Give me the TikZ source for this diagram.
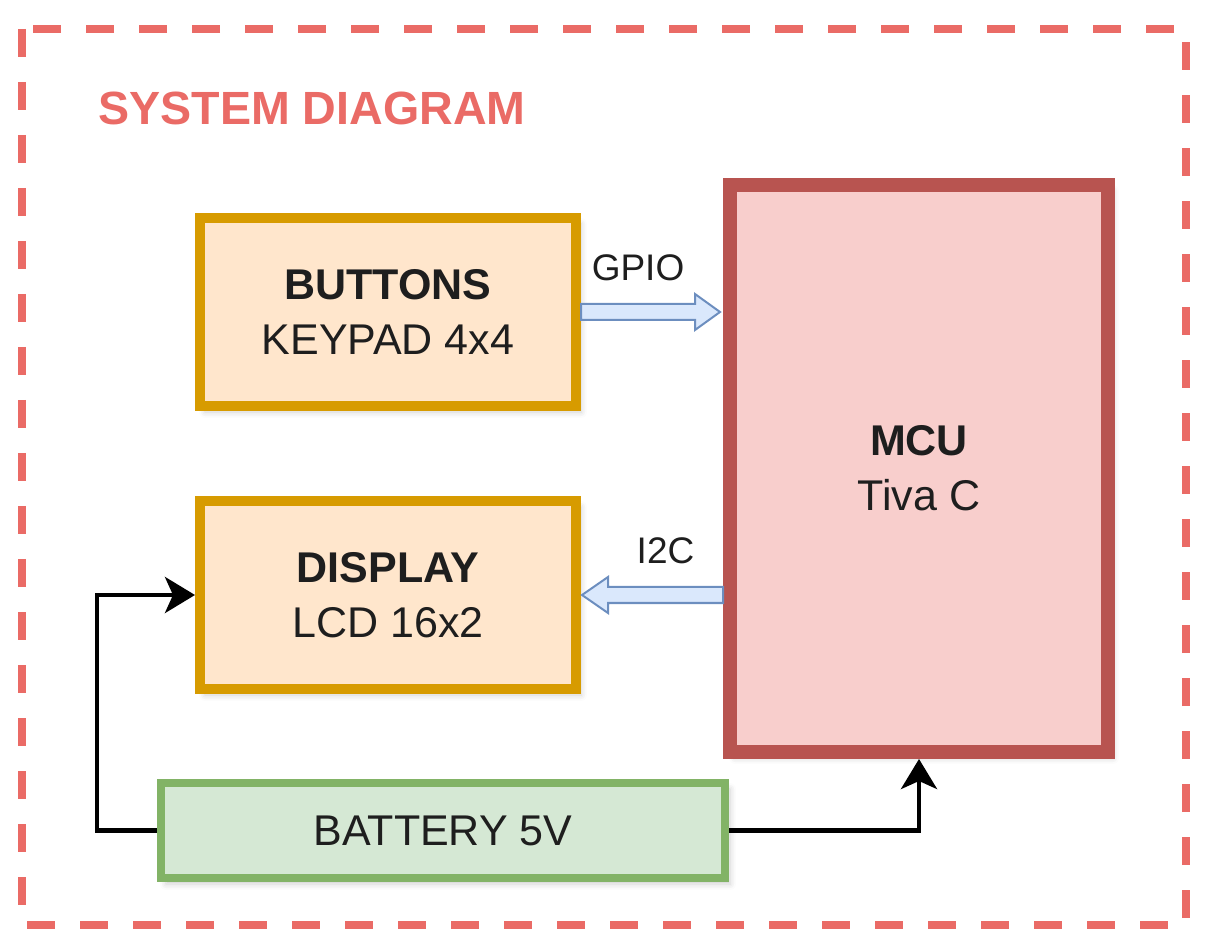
\documentclass[tikz,border=0pt]{standalone}
\usepackage{fontspec}
\setmainfont{Liberation Sans}
\usepackage{tikz}
\usetikzlibrary{arrows.meta, positioning, calc, shadows.blur}
\definecolor{framered}{HTML}{EA6B66}
\definecolor{ioorange}{HTML}{D79B00}
\definecolor{iofill}{HTML}{FFE6CC}
\definecolor{corered}{HTML}{B85450}
\definecolor{corefill}{HTML}{F8CECC}
\definecolor{batgreen}{HTML}{82B366}
\definecolor{batfill}{HTML}{D5E8D4}
\definecolor{busblue}{HTML}{6C8EBF}
\definecolor{busfill}{HTML}{DAE8FC}
\definecolor{textgray}{RGB}{30, 30, 30}

\begin{document}
\begin{tikzpicture}[
    x=0.5pt, y=-0.5pt,
    block/.style={draw, rectangle, align=center, text=textgray, inner sep=0pt, font=\fontsize{21.5}{27.5}\selectfont, blur shadow={shadow xshift=2.5pt, shadow yshift=-3pt, shadow blur radius=3pt, shadow opacity=20}},
    periph/.style={block, draw=ioorange, fill=iofill, line width=5pt, minimum width=188pt, minimum height=94pt},
    core/.style={block, draw=corered, fill=corefill, line width=7pt, minimum width=189pt, minimum height=283.5pt},
    supply/.style={block, draw=batgreen, fill=batfill, line width=4pt, minimum width=282pt, minimum height=47.5pt},
    bus/.style={draw=busblue, fill=busfill, line width=1pt},
    buslabel/.style={font=\fontsize{18.5}{22}\selectfont, text=textgray, inner sep=0pt},
    power/.style={-{Stealth[length=15pt, width=18pt, inset=4pt]}, line width=2.25pt, black}
]
    \useasboundingbox (0,0) rectangle (1214,945);

    % Frame and title
    \draw[framered, line width=4pt, dash pattern=on 14pt off 12.5pt] (22,29) rectangle (1186,925);
    \node[anchor=west, text=framered, inner sep=0pt, font=\bfseries\fontsize{23.3}{28}\selectfont] (title) at (98,108) {SYSTEM DIAGRAM};

    % Nodes
    \node[periph] (keypad) at (388,312) {\textbf{BUTTONS}\\KEYPAD 4x4};
    \node[periph, below=42.5pt of keypad] (lcd) {\textbf{DISPLAY}\\LCD 16x2};
    \node[core] (mcu) at (919,468.5) {\textbf{MCU}\\Tiva C};
    \node[supply] (bat) at (443,830.5) {BATTERY 5V};

    % Buses
    \draw[bus] ($(keypad.east)+(0,-8)$) -- ++(114,0) node[buslabel, midway, above=11pt] {GPIO}
        -- ++(0,-10) -- ++(25,18) -- ++(-25,18) -- ++(0,-10) -- ++(-114,0) -- cycle;
    \draw[bus] ($(lcd.east)+(1,0)$) -- ++(26,-18) -- ++(0,10) -- ++(115,0) node[buslabel, midway, above=11pt] {I2C}
        -- ++(0,16) -- ++(-115,0) -- ++(0,10) -- cycle;

    % Power
    \draw[power] (bat.west) -- ++(-60,0) |- (lcd.west);
    \draw[power] (bat.east) -| (mcu.south);
\end{tikzpicture}
\end{document}
